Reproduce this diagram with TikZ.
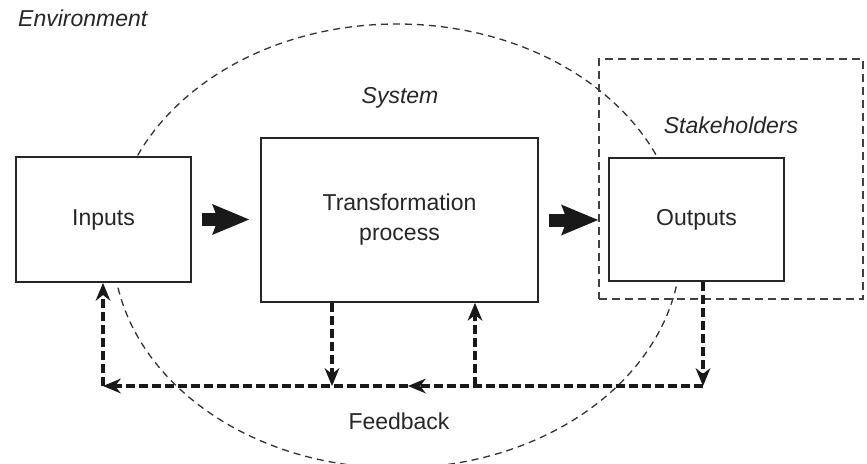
\documentclass[tikz,border=0pt]{standalone}
\usepackage{fontspec}
\setmainfont{Liberation Sans}
\usetikzlibrary{arrows.meta}
\begin{document}
\begin{tikzpicture}[x=1pt,y=-1pt,
  box/.style={draw=black!85, line width=1.8pt, fill=white, inner sep=0pt, align=center,
              text=black!85, font=\fontsize{23}{30}\selectfont},
  lbl/.style={inner sep=0pt, text=black!85, font=\fontsize{23}{30}\selectfont},
  ital/.style={inner sep=0pt, text=black!85, font=\fontsize{23}{30}\selectfont\itshape},
  envline/.style={draw=black!80, line width=1.3pt, dash pattern=on 7pt off 5pt},
  stkbox/.style={draw=black!75, line width=1.8pt, dash pattern=on 8pt off 5pt, inner sep=0pt},
  fb/.style={draw=black!90, line width=4.5pt, dash pattern=on 9pt off 4pt,
             -{Stealth[length=18pt,width=15pt,line width=0pt]}},
  big/.style={draw=black!90, line width=13pt,
             -{Stealth[length=37pt,width=31pt,inset=6pt,line width=0pt]}}]
\useasboundingbox (0,0) rectangle (867,463);
% environment ellipse
\draw[envline] (397,246) ellipse [x radius=284pt, y radius=222pt];
% stakeholders box
\node[stkbox, minimum width=264pt, minimum height=240pt] (stk) at (731,179) {};
% boxes
\node[box, minimum width=175pt, minimum height=125pt] (in) at (103.5,219.5) {Inputs};
\node[box, minimum width=277pt, minimum height=164pt] (tr) at (399.5,220) {Transformation\\process};
\node[box, minimum width=175pt, minimum height=123pt] (out) at (696.5,219.5) {Outputs};
% big arrows
\draw[big] ([xshift=10pt]in.east) -- ([xshift=-11pt]tr.west |- in.east);
\draw[big] ([xshift=10pt]tr.east) -- (stk.west |- tr.east);
% feedback
\coordinate (fr) at (703,386);
\coordinate (fl) at (103,386);
\coordinate (fm) at (408,386);
\coordinate (td) at (332,386);
\coordinate (tu) at (475,386);
\draw[fb] (out.south -| fr) -- (fr);
\draw[fb] (fr) -- (fm);
\draw[fb] (fm) -- (fl);
\draw[fb] (fl) -- (in.south -| fl);
\draw[fb] (tr.south -| td) -- (td);
\draw[fb] (tu) -- (tr.south -| tu);
% labels
\node[ital, anchor=base west] (envl) at (18,27) {Environment};
\node[ital, anchor=base] (sysl) at (400,103) {System};
\node[ital, anchor=base] (stkl) at (731,133) {Stakeholders};
\node[lbl, anchor=base] (fbl) at (399,429) {Feedback};
\end{tikzpicture}
\end{document}
